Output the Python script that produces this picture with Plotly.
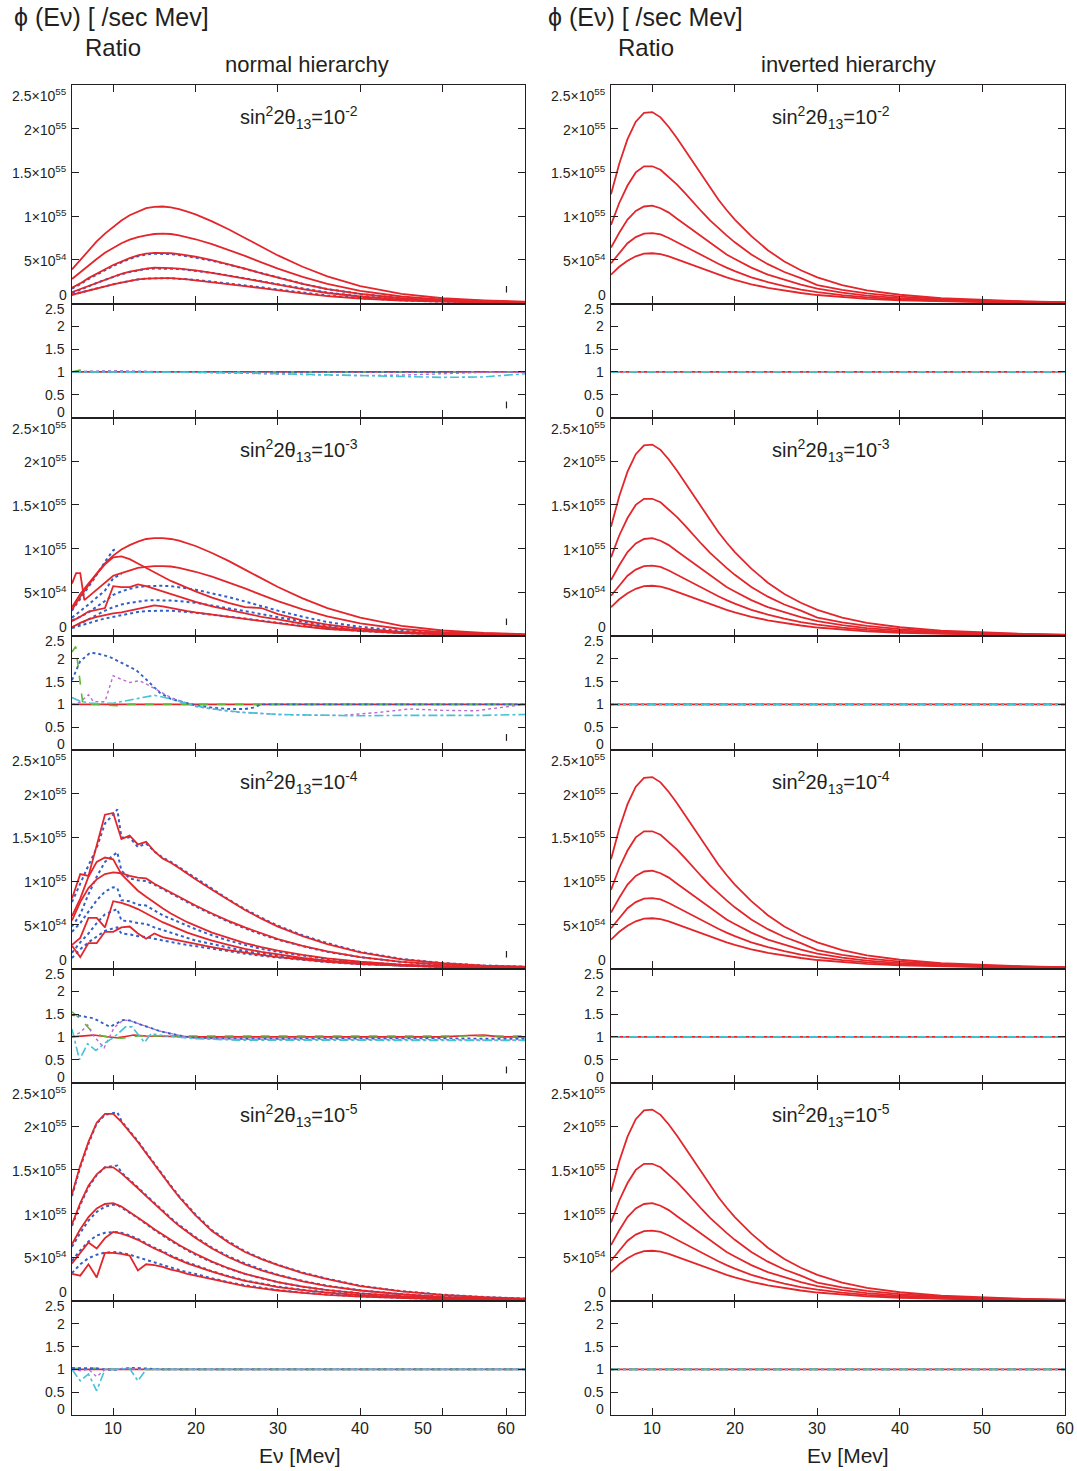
import plotly.graph_objects as go

# ---------------- data (flux in units of 1e55 /sec MeV) ----------------
E = [5, 6, 7, 8, 9, 10, 11, 12, 13, 14, 15, 16, 17, 18, 19, 20,
     22, 24, 26, 28, 30, 33, 36, 40, 45, 50, 55, 60]
E_B = [5, 6, 7, 8, 9, 10, 10.5, 11, 12, 13, 14, 15, 16, 17, 18, 19, 20,
       22, 24, 26, 28, 30, 33, 36, 40, 45, 50, 55, 60]
E_SPIKE = [5, 5.5, 6, 6.5, 7, 8, 9, 10, 11, 12, 13, 14, 15, 16, 17, 18, 19, 20,
           22, 24, 26, 28, 30, 33, 36, 40, 45, 50, 55, 60]

# --- normal hierarchy, sin^2 2theta13 = 1e-2
n1_red_A = [0.39, 0.50, 0.61, 0.71, 0.80, 0.88, 0.95, 1.01, 1.05, 1.09, 1.105, 1.11, 1.10, 1.08, 1.05, 1.02,
            0.94, 0.85, 0.75, 0.65, 0.55, 0.42, 0.31, 0.20, 0.11, 0.06, 0.035, 0.02]
n1_red_B = [0.28, 0.36, 0.44, 0.51, 0.58, 0.64, 0.69, 0.73, 0.76, 0.78, 0.795, 0.80, 0.795, 0.78, 0.76, 0.735,
            0.68, 0.615, 0.545, 0.47, 0.40, 0.305, 0.225, 0.145, 0.08, 0.045, 0.026, 0.015]
n1_red_C = [0.18, 0.23, 0.29, 0.34, 0.39, 0.44, 0.48, 0.52, 0.55, 0.57, 0.58, 0.58, 0.575, 0.565, 0.55, 0.535,
            0.495, 0.45, 0.40, 0.345, 0.295, 0.225, 0.165, 0.11, 0.06, 0.035, 0.02, 0.012]
n1_red_D = [0.13, 0.165, 0.20, 0.24, 0.275, 0.31, 0.34, 0.365, 0.385, 0.40, 0.41, 0.41, 0.405, 0.40, 0.39, 0.38,
            0.35, 0.32, 0.285, 0.25, 0.215, 0.165, 0.12, 0.08, 0.045, 0.026, 0.015, 0.009]
n1_red_E = [0.10, 0.125, 0.15, 0.175, 0.20, 0.22, 0.24, 0.26, 0.275, 0.285, 0.29, 0.29, 0.29, 0.285, 0.275, 0.265,
            0.245, 0.225, 0.20, 0.175, 0.15, 0.115, 0.085, 0.057, 0.033, 0.019, 0.011, 0.006]
n1_blue_C = [0.17, 0.22, 0.28, 0.33, 0.38, 0.43, 0.47, 0.51, 0.54, 0.56, 0.57, 0.57, 0.565, 0.555, 0.54, 0.525,
             0.49, 0.445, 0.395, 0.345, 0.295, 0.225, 0.165, 0.11, 0.06, 0.035, 0.02, 0.012]
n1_blue_D = [0.12, 0.16, 0.195, 0.235, 0.27, 0.305, 0.335, 0.36, 0.38, 0.395, 0.40, 0.40, 0.40, 0.395, 0.385, 0.375,
             0.35, 0.32, 0.29, 0.255, 0.22, 0.17, 0.125, 0.083, 0.047, 0.027, 0.016, 0.009]
n1_blue_E = [0.10, 0.125, 0.15, 0.175, 0.20, 0.22, 0.24, 0.26, 0.275, 0.285, 0.29, 0.29, 0.29, 0.285, 0.28, 0.27,
             0.25, 0.23, 0.21, 0.185, 0.16, 0.125, 0.092, 0.062, 0.036, 0.021, 0.012, 0.007]
n1_r_red_x, n1_r_red = [5, 60], [1.0, 1.0]
n1_r_green_x, n1_r_green = [5, 6, 7, 8, 10, 60], [1.0, 1.04, 1.01, 1.0, 1.0, 1.0]
n1_r_blue_x, n1_r_blue = [5, 10, 15, 20, 60], [1.0, 1.01, 1.0, 1.0, 1.0]
n1_r_mag_x = [5, 10, 14, 20, 25, 30, 35, 40, 45, 50, 55, 60]
n1_r_mag = [1.0, 1.02, 1.01, 0.99, 0.97, 0.95, 0.93, 0.92, 0.93, 0.96, 0.99, 1.0]
n1_r_cyan_x = [5, 10, 15, 20, 25, 30, 35, 40, 45, 50, 55, 60]
n1_r_cyan = [1.0, 1.0, 1.0, 0.99, 0.98, 0.96, 0.93, 0.91, 0.89, 0.88, 0.89, 0.96]

# --- normal hierarchy, 1e-3
n2_red_A = [0.33, 0.48, 0.60, 0.72, 0.83, 0.92, 0.99, 1.04, 1.08, 1.11, 1.12, 1.12, 1.11, 1.09, 1.06, 1.03,
            0.95, 0.86, 0.76, 0.66, 0.56, 0.43, 0.32, 0.21, 0.115, 0.063, 0.036, 0.02]
n2_red_B = [0.30, 0.45, 0.58, 0.71, 0.82, 0.90, 0.91, 0.88, 0.83, 0.78, 0.73, 0.68, 0.63, 0.59, 0.55, 0.51,
            0.44, 0.38, 0.33, 0.32, 0.25, 0.18, 0.13, 0.085, 0.047, 0.027, 0.015, 0.009]
n2_red_C = [0.60, 0.72, 0.72, 0.41, 0.45, 0.53, 0.62, 0.69, 0.72, 0.75, 0.78, 0.79, 0.80, 0.80, 0.795, 0.78, 0.76, 0.735,
            0.68, 0.615, 0.545, 0.47, 0.40, 0.305, 0.225, 0.145, 0.08, 0.045, 0.026, 0.015]
n2_red_D = [0.17, 0.22, 0.28, 0.30, 0.32, 0.57, 0.56, 0.56, 0.59, 0.57, 0.54, 0.51, 0.48, 0.45, 0.42, 0.39,
            0.34, 0.30, 0.26, 0.22, 0.19, 0.14, 0.10, 0.065, 0.037, 0.021, 0.012, 0.007]
n2_red_E = [0.10, 0.15, 0.19, 0.22, 0.24, 0.26, 0.27, 0.29, 0.31, 0.33, 0.35, 0.34, 0.32, 0.30, 0.285, 0.27,
            0.245, 0.22, 0.195, 0.17, 0.145, 0.11, 0.08, 0.055, 0.032, 0.018, 0.01, 0.006]
n2_blue_A_x, n2_blue_A = [5, 6, 7, 8, 9, 10, 10.5], [0.29, 0.42, 0.56, 0.70, 0.85, 0.98, 1.01]
n2_blue_B_x, n2_blue_B = [5, 6, 7, 8, 9, 10, 11], [0.21, 0.28, 0.36, 0.44, 0.52, 0.66, 0.71]
n2_blue_C = [0.18, 0.22, 0.27, 0.33, 0.40, 0.47, 0.51, 0.54, 0.56, 0.57, 0.575, 0.575, 0.57, 0.56, 0.545, 0.53,
             0.49, 0.445, 0.395, 0.34, 0.29, 0.22, 0.16, 0.105, 0.058, 0.033, 0.019, 0.011]
n2_blue_D = [0.10, 0.14, 0.19, 0.24, 0.29, 0.33, 0.36, 0.38, 0.395, 0.405, 0.41, 0.41, 0.405, 0.40, 0.39, 0.38,
             0.35, 0.32, 0.285, 0.25, 0.215, 0.165, 0.12, 0.08, 0.045, 0.026, 0.015, 0.009]
n2_blue_E = [0.09, 0.12, 0.15, 0.175, 0.20, 0.22, 0.24, 0.26, 0.275, 0.285, 0.29, 0.29, 0.29, 0.285, 0.275, 0.265,
             0.245, 0.225, 0.20, 0.175, 0.15, 0.115, 0.085, 0.057, 0.033, 0.019, 0.011, 0.006]
n2_r_red_x, n2_r_red = [5, 60], [1.0, 1.0]
n2_r_green_x = [5, 5.45, 6.3, 7, 8, 9, 10.4, 12, 15, 20, 60]
n2_r_green = [2.15, 2.27, 1.03, 1.0, 1.0, 0.99, 0.97, 1.0, 1.0, 1.0, 1.0]
n2_r_blue_x = [5, 6, 7.2, 8, 9.6, 11, 12.8, 14, 15.7, 17, 18.9, 20, 22, 24, 26, 27, 28, 30, 60]
n2_r_blue = [1.53, 1.95, 2.13, 2.12, 2.04, 1.92, 1.75, 1.55, 1.25, 1.12, 1.03, 0.98, 0.93, 0.90, 0.90, 0.93, 1.0, 1.0, 1.0]
n2_r_mag_x = [5, 6, 7, 7.6, 9, 10, 11, 12, 13.2, 14, 15.7, 17, 18.9, 20, 25, 30, 35, 38, 42, 46, 50, 54, 57, 60]
n2_r_mag = [1.0, 1.05, 1.21, 1.06, 1.06, 1.63, 1.55, 1.48, 1.52, 1.45, 1.28, 1.15, 1.03, 0.95, 0.83, 0.78,
            0.76, 0.76, 0.82, 0.90, 0.87, 0.86, 0.93, 1.0]
n2_r_cyan_x = [5, 6, 7.2, 8, 10.1, 12.3, 15, 17, 18.9, 20, 22, 25.5, 30, 35, 40, 45, 50, 55, 60]
n2_r_cyan = [1.15, 1.07, 1.03, 1.02, 1.03, 1.10, 1.20, 1.12, 1.03, 0.97, 0.90, 0.83, 0.78, 0.76, 0.75, 0.76, 0.76, 0.76, 0.78]

# --- normal hierarchy, 1e-4
n3_red_A = [0.80, 1.08, 1.06, 1.41, 1.76, 1.78, 1.48, 1.52, 1.42, 1.45, 1.34, 1.26, 1.21, 1.15, 1.08, 1.02,
            0.90, 0.78, 0.67, 0.57, 0.48, 0.37, 0.28, 0.185, 0.105, 0.06, 0.034, 0.02]
n3_red_B = [0.60, 0.80, 1.05, 1.22, 1.27, 1.25, 1.08, 0.98, 0.89, 0.82, 0.75, 0.69, 0.63, 0.58, 0.53, 0.49,
            0.41, 0.35, 0.29, 0.245, 0.205, 0.155, 0.115, 0.077, 0.045, 0.026, 0.015, 0.009]
n3_red_C = [0.55, 0.76, 0.92, 1.02, 1.08, 1.10, 1.09, 1.06, 1.04, 1.03, 0.97, 0.92, 0.87, 0.82, 0.77, 0.72,
            0.63, 0.545, 0.47, 0.40, 0.335, 0.26, 0.195, 0.13, 0.076, 0.044, 0.026, 0.015]
n3_red_D = [0.27, 0.35, 0.58, 0.58, 0.47, 0.77, 0.75, 0.72, 0.68, 0.63, 0.58, 0.53, 0.49, 0.45, 0.41, 0.38,
            0.32, 0.27, 0.225, 0.19, 0.16, 0.12, 0.09, 0.06, 0.035, 0.02, 0.012, 0.007]
n3_red_E = [0.26, 0.13, 0.29, 0.29, 0.42, 0.42, 0.47, 0.48, 0.40, 0.34, 0.40, 0.36, 0.34, 0.32, 0.30, 0.28,
            0.245, 0.21, 0.18, 0.155, 0.13, 0.10, 0.075, 0.05, 0.03, 0.017, 0.01, 0.006]
n3_blue_A = [0.76, 0.98, 1.18, 1.38, 1.66, 1.76, 1.82, 1.50, 1.50, 1.39, 1.43, 1.34, 1.27, 1.22, 1.16, 1.09, 1.03,
             0.91, 0.79, 0.68, 0.58, 0.49, 0.38, 0.29, 0.19, 0.11, 0.062, 0.035, 0.021]
n3_blue_B = [0.48, 0.62, 0.85, 1.05, 1.22, 1.29, 1.33, 1.12, 1.03, 1.01, 1.00, 0.96, 0.91, 0.86, 0.81, 0.76, 0.71,
             0.62, 0.535, 0.46, 0.39, 0.33, 0.255, 0.19, 0.13, 0.075, 0.043, 0.025, 0.015]
n3_blue_C = [0.42, 0.52, 0.65, 0.78, 0.88, 0.93, 0.92, 0.78, 0.77, 0.73, 0.72, 0.66, 0.61, 0.57, 0.53, 0.49, 0.45,
             0.38, 0.32, 0.27, 0.225, 0.19, 0.145, 0.108, 0.073, 0.043, 0.025, 0.015, 0.009]
n3_blue_D = [0.18, 0.30, 0.40, 0.52, 0.62, 0.66, 0.68, 0.55, 0.54, 0.52, 0.51, 0.47, 0.44, 0.41, 0.38, 0.35, 0.32,
             0.28, 0.24, 0.20, 0.17, 0.145, 0.11, 0.083, 0.056, 0.033, 0.019, 0.011, 0.007]
n3_blue_E = [0.12, 0.22, 0.30, 0.37, 0.43, 0.46, 0.47, 0.40, 0.39, 0.37, 0.36, 0.34, 0.32, 0.30, 0.285, 0.27, 0.255,
             0.225, 0.195, 0.17, 0.145, 0.125, 0.097, 0.073, 0.05, 0.03, 0.018, 0.011, 0.006]
n3_r_red_x = [5, 6, 7.6, 9, 10.4, 11.5, 12.5, 14, 20, 30, 40, 50, 53, 55, 57, 60]
n3_r_red = [1.0, 1.01, 1.04, 1.01, 0.98, 1.01, 1.04, 1.02, 1.0, 1.0, 1.0, 1.0, 1.03, 1.04, 1.0, 1.0]
n3_r_green_x = [5, 6, 7, 7.6, 8.5, 10, 11, 12, 13, 15, 20, 30, 40, 50, 55, 60]
n3_r_green = [1.55, 1.40, 1.20, 1.10, 1.03, 0.98, 0.97, 1.0, 1.02, 1.02, 1.02, 1.02, 1.02, 1.02, 1.03, 1.02]
n3_r_blue_x = [5, 6, 7.6, 9.6, 11.2, 12, 13.2, 15.6, 17, 18.9, 20, 25, 30, 40, 50, 55, 60]
n3_r_blue = [1.48, 1.46, 1.41, 1.22, 1.37, 1.36, 1.28, 1.13, 1.07, 1.0, 0.98, 0.96, 0.96, 0.97, 0.97, 0.96, 0.96]
n3_r_mag_x = [5, 6, 6.9, 7.5, 8.9, 10.1, 11.2, 12, 13.2, 15.6, 18.9, 20, 25, 30, 40, 50, 55, 60]
n3_r_mag = [1.0, 1.1, 1.26, 1.05, 0.76, 1.2, 1.37, 1.36, 1.28, 1.13, 1.0, 0.97, 0.95, 0.95, 0.95, 0.94, 0.93, 0.93]
n3_r_cyan_x = [5, 5.9, 6.9, 7.9, 9.1, 10, 11.5, 12.3, 13.8, 14.6, 16, 18, 20, 25, 30, 40, 50, 60]
n3_r_cyan = [1.17, 0.50, 0.85, 0.70, 0.88, 0.98, 1.22, 1.22, 0.88, 1.07, 1.03, 1.0, 0.96, 0.93, 0.93, 0.93, 0.92, 0.92]

# --- normal hierarchy, 1e-5
n4_red_A = [1.22, 1.55, 1.82, 2.04, 2.14, 2.14, 2.05, 1.94, 1.82, 1.69, 1.56, 1.43, 1.31, 1.19, 1.08, 0.98,
            0.80, 0.67, 0.56, 0.48, 0.41, 0.32, 0.25, 0.17, 0.11, 0.07, 0.045, 0.027]
n4_red_B = [0.88, 1.12, 1.32, 1.45, 1.53, 1.53, 1.46, 1.38, 1.29, 1.20, 1.11, 1.02, 0.94, 0.86, 0.79, 0.72,
            0.60, 0.50, 0.42, 0.35, 0.295, 0.225, 0.17, 0.12, 0.077, 0.048, 0.03, 0.018]
n4_red_C = [0.65, 0.82, 0.96, 1.06, 1.11, 1.12, 1.08, 1.02, 0.96, 0.89, 0.82, 0.76, 0.70, 0.64, 0.59, 0.54,
            0.45, 0.375, 0.31, 0.26, 0.215, 0.165, 0.125, 0.088, 0.055, 0.035, 0.022, 0.013]
n4_red_D = [0.43, 0.55, 0.67, 0.60, 0.72, 0.79, 0.77, 0.74, 0.70, 0.65, 0.60, 0.56, 0.51, 0.47, 0.43, 0.40,
            0.335, 0.28, 0.23, 0.195, 0.16, 0.125, 0.095, 0.067, 0.042, 0.027, 0.017, 0.01]
n4_red_E = [0.31, 0.29, 0.42, 0.27, 0.55, 0.55, 0.54, 0.52, 0.35, 0.42, 0.41, 0.39, 0.36, 0.34, 0.31, 0.29,
            0.245, 0.205, 0.17, 0.145, 0.12, 0.093, 0.07, 0.05, 0.032, 0.02, 0.013, 0.008]
n4_blue_A = [1.20, 1.53, 1.80, 2.03, 2.13, 2.15, 2.16, 2.06, 1.95, 1.83, 1.70, 1.57, 1.44, 1.32, 1.20, 1.09, 0.99,
             0.81, 0.68, 0.57, 0.485, 0.415, 0.325, 0.255, 0.175, 0.112, 0.072, 0.046, 0.028]
n4_blue_B = [0.86, 1.10, 1.30, 1.44, 1.53, 1.54, 1.55, 1.47, 1.39, 1.30, 1.21, 1.12, 1.03, 0.95, 0.87, 0.80, 0.73,
             0.61, 0.51, 0.43, 0.36, 0.30, 0.23, 0.175, 0.123, 0.079, 0.05, 0.031, 0.019]
n4_blue_C = [0.62, 0.78, 0.92, 1.02, 1.08, 1.10, 1.10, 1.07, 1.01, 0.95, 0.88, 0.81, 0.75, 0.69, 0.63, 0.58, 0.53,
             0.445, 0.37, 0.31, 0.26, 0.215, 0.165, 0.125, 0.088, 0.055, 0.035, 0.022, 0.013]
n4_blue_D = [0.46, 0.58, 0.68, 0.75, 0.78, 0.79, 0.79, 0.78, 0.75, 0.71, 0.66, 0.61, 0.57, 0.52, 0.48, 0.44, 0.41,
             0.34, 0.285, 0.235, 0.20, 0.165, 0.128, 0.097, 0.069, 0.043, 0.028, 0.018, 0.011]
n4_blue_E = [0.32, 0.42, 0.49, 0.53, 0.555, 0.56, 0.56, 0.55, 0.53, 0.50, 0.47, 0.44, 0.41, 0.38, 0.355, 0.33, 0.31,
             0.26, 0.215, 0.18, 0.15, 0.125, 0.097, 0.073, 0.052, 0.033, 0.021, 0.014, 0.008]
n4_r_red_x, n4_r_red = [5, 60], [1.0, 1.0]
n4_r_green_x, n4_r_green = [5, 7, 9, 10, 12, 14, 60], [1.02, 1.03, 1.01, 1.0, 1.02, 1.0, 1.0]
n4_r_blue_x = [5, 6, 7, 8, 9, 10, 11, 12, 13, 14, 16, 60]
n4_r_blue = [1.03, 1.03, 1.02, 1.02, 1.0, 0.99, 1.01, 1.03, 1.03, 1.02, 1.0, 1.0]
n4_r_mag_x, n4_r_mag = [5, 6, 7, 8, 9, 10, 12, 13, 14, 60], [1.0, 0.97, 1.0, 0.84, 1.0, 1.0, 1.03, 1.0, 1.0, 1.0]
n4_r_cyan_x = [5, 6, 7, 8, 9, 10, 12, 13, 14, 16, 60]
n4_r_cyan = [1.0, 0.75, 0.9, 0.53, 1.0, 1.0, 1.02, 0.75, 1.0, 1.0, 1.0]

# --- inverted hierarchy (same in all four rows)
inv_A = [1.25, 1.60, 1.88, 2.08, 2.18, 2.19, 2.13, 2.02, 1.89, 1.75, 1.60, 1.46, 1.32, 1.19, 1.07, 0.96,
         0.77, 0.61, 0.48, 0.38, 0.30, 0.21, 0.15, 0.10, 0.06, 0.04, 0.025, 0.015]
inv_B = [0.90, 1.15, 1.35, 1.50, 1.57, 1.57, 1.53, 1.45, 1.36, 1.26, 1.15, 1.05, 0.95, 0.86, 0.78, 0.70,
         0.56, 0.45, 0.36, 0.29, 0.21, 0.155, 0.115, 0.078, 0.05, 0.032, 0.02, 0.013]
inv_C = [0.64, 0.81, 0.96, 1.06, 1.11, 1.12, 1.09, 1.04, 0.97, 0.90, 0.83, 0.76, 0.69, 0.62, 0.56, 0.51,
         0.41, 0.33, 0.27, 0.215, 0.17, 0.125, 0.09, 0.062, 0.04, 0.026, 0.017, 0.011]
inv_D = [0.46, 0.58, 0.69, 0.76, 0.80, 0.805, 0.79, 0.75, 0.70, 0.65, 0.60, 0.55, 0.50, 0.455, 0.41, 0.37,
         0.30, 0.245, 0.20, 0.16, 0.13, 0.095, 0.07, 0.048, 0.031, 0.02, 0.013, 0.009]
inv_E = [0.33, 0.42, 0.49, 0.54, 0.57, 0.575, 0.565, 0.54, 0.505, 0.47, 0.435, 0.40, 0.365, 0.33, 0.30, 0.27,
         0.22, 0.18, 0.148, 0.12, 0.097, 0.072, 0.053, 0.037, 0.024, 0.016, 0.011, 0.007]
inv_ratio_x, inv_ratio = [5, 60], [1.0, 1.0]

theta_labels = ["10<sup>-2</sup>", "10<sup>-3</sup>", "10<sup>-4</sup>", "10<sup>-5</sup>"]
flux_ticks = [0, 0.5, 1, 1.5, 2, 2.5]
flux_tick_text = ["0", "5×10<sup>54</sup>", "1×10<sup>55</sup>", "1.5×10<sup>55</sup>",
                  "2×10<sup>55</sup>", "2.5×10<sup>55</sup>"]
ratio_ticks = [0, 0.5, 1, 1.5, 2, 2.5]
ratio_tick_text = ["0", "0.5", "1", "1.5", "2", "2.5"]
x_tick_text = ["10", "20", "30", "40", "50", "60"]
x_ticks_right = [10, 20, 30, 40, 50, 60]
x_ticks_left = [10, 20, 30, 40, 50]
x_ticks_left_bottom = [10, 20, 30, 40, 50, 57.75]
x_label_pos_left = [10, 20, 30, 40, 47.6, 57.75]

# ---------------- styling / layout ----------------
FONT = "Liberation Sans, Arial, Helvetica, sans-serif"
INK = "#231f20"
RED = "#e3262b"
BLUE = "#3160c6"
GREEN = "#5fb833"
MAG = "#b86bd0"
CYAN = "#44c2d6"

W, H = 1077, 1471
ML, MR, MT, MB = 72, 12, 85, 56
PW, PH = W - ML - MR, H - MT - MB
ROW_H, FLUX_H = 332.5, 218.5


def xp(px):
    return (px - ML) / PW


def yp(py):
    return 1 - (py - MT) / PH


XDOM = [[0, xp(525)], [xp(611), 1]]


def ydom(i, k):
    top = MT + ROW_H * i + (FLUX_H if k == 1 else 0)
    bot = MT + ROW_H * i + (FLUX_H if k == 0 else ROW_H)
    return [yp(bot), yp(top)]


def axn(c, i, k):
    return c * 8 + i * 2 + k + 1


def sfx(n):
    return "" if n == 1 else str(n)


fig = go.Figure()


def add_line(n, x, y, color, width, dash="solid"):
    fig.add_trace(go.Scatter(x=x, y=y, mode="lines", xaxis="x" + sfx(n), yaxis="y" + sfx(n),
                             line=dict(color=color, width=width, dash=dash),
                             showlegend=False, hoverinfo="skip"))


normal_rows = [
    dict(blue=[(E, n1_blue_C), (E, n1_blue_D), (E, n1_blue_E)],
         red=[(E, n1_red_A), (E, n1_red_B), (E, n1_red_C), (E, n1_red_D), (E, n1_red_E)],
         ratio=[(n1_r_red_x, n1_r_red), (n1_r_green_x, n1_r_green), (n1_r_blue_x, n1_r_blue),
                (n1_r_mag_x, n1_r_mag), (n1_r_cyan_x, n1_r_cyan)]),
    dict(blue=[(n2_blue_A_x, n2_blue_A), (n2_blue_B_x, n2_blue_B), (E, n2_blue_C), (E, n2_blue_D), (E, n2_blue_E)],
         red=[(E, n2_red_A), (E, n2_red_B), (E_SPIKE, n2_red_C), (E, n2_red_D), (E, n2_red_E)],
         ratio=[(n2_r_red_x, n2_r_red), (n2_r_green_x, n2_r_green), (n2_r_blue_x, n2_r_blue),
                (n2_r_mag_x, n2_r_mag), (n2_r_cyan_x, n2_r_cyan)]),
    dict(blue=[(E_B, n3_blue_A), (E_B, n3_blue_B), (E_B, n3_blue_C), (E_B, n3_blue_D), (E_B, n3_blue_E)],
         red=[(E, n3_red_A), (E, n3_red_B), (E, n3_red_C), (E, n3_red_D), (E, n3_red_E)],
         ratio=[(n3_r_red_x, n3_r_red), (n3_r_green_x, n3_r_green), (n3_r_blue_x, n3_r_blue),
                (n3_r_mag_x, n3_r_mag), (n3_r_cyan_x, n3_r_cyan)]),
    dict(blue=[(E_B, n4_blue_A), (E_B, n4_blue_B), (E_B, n4_blue_C), (E_B, n4_blue_D), (E_B, n4_blue_E)],
         red=[(E, n4_red_A), (E, n4_red_B), (E, n4_red_C), (E, n4_red_D), (E, n4_red_E)],
         ratio=[(n4_r_red_x, n4_r_red), (n4_r_green_x, n4_r_green), (n4_r_blue_x, n4_r_blue),
                (n4_r_mag_x, n4_r_mag), (n4_r_cyan_x, n4_r_cyan)]),
]
inverted_row = dict(blue=[], red=[(E, inv_A), (E, inv_B), (E, inv_C), (E, inv_D), (E, inv_E)],
                    ratio=[(inv_ratio_x, inv_ratio)] * 5)

RATIO_STYLE = [(RED, 1.6, "solid"), (GREEN, 1.6, "dash"), (BLUE, 1.9, "dot"),
               (MAG, 1.4, "dot"), (CYAN, 1.6, "dashdot")]

layout = dict(width=W, height=H, margin=dict(l=ML, r=MR, t=MT, b=MB, pad=0),
              paper_bgcolor="white", plot_bgcolor="white", showlegend=False,
              font=dict(family=FONT, color=INK, size=14))
annotations = []
shapes = []

for c in range(2):
    for i in range(4):
        data = normal_rows[i] if c == 0 else inverted_row
        for k in range(2):
            n = axn(c, i, k)
            s = sfx(n)
            if c == 1:
                xt = x_ticks_right
            elif i == 3 and k == 1:
                xt = x_ticks_left_bottom
            else:
                xt = x_ticks_left
            layout["xaxis" + s] = dict(domain=XDOM[c], anchor="y" + s, range=[5, 60],
                                       showline=True, linecolor=INK, linewidth=1.2, mirror="ticks",
                                       ticks="inside", ticklen=7, tickwidth=1.1, tickcolor=INK,
                                       tickvals=xt, showticklabels=False, showgrid=False,
                                       zeroline=False, fixedrange=True)
            layout["yaxis" + s] = dict(domain=ydom(i, k), anchor="x" + s, range=[0, 2.5],
                                       showline=True, linecolor=INK, linewidth=1.2, mirror="ticks",
                                       ticks="inside", ticklen=7, tickwidth=1.1, tickcolor=INK,
                                       tickvals=flux_ticks if k == 0 else ratio_ticks,
                                       showticklabels=False, showgrid=False, zeroline=False,
                                       fixedrange=True)
            if k == 0:
                for x, y in data["blue"]:
                    add_line(n, x, y, BLUE, 2.0, "dot")
                for x, y in data["red"]:
                    add_line(n, x, y, RED, 1.8)
                for v, txt in zip(flux_ticks, flux_tick_text):
                    ys = 0
                    if v == 0:
                        ys = 9
                    elif v == 2.5:
                        ys = -10
                    annotations.append(dict(xref="x" + s + " domain", x=0, xanchor="right", xshift=-3,
                                            yref="y" + s, y=v, yanchor="middle", yshift=ys,
                                            text=txt, showarrow=False,
                                            font=dict(size=14, family=FONT, color=INK)))
                annotations.append(dict(xref="x" + s, x=32.6 if c == 0 else 31.6,
                                        yref="y" + s + " domain", y=0.85, xanchor="center",
                                        yanchor="middle",
                                        text="sin<sup>2</sup>2θ<sub>13</sub>=" + theta_labels[i],
                                        showarrow=False, font=dict(size=20, family=FONT, color=INK)))
                if c == 0 and i < 3:
                    shapes.append(dict(type="line", xref="x" + s, yref="y" + s + " domain",
                                       x0=57.75, x1=57.75, y0=0.05, y1=0.08,
                                       line=dict(color=INK, width=1.2)))
            else:
                for (x, y), (col, wd, ds) in zip(data["ratio"], RATIO_STYLE):
                    add_line(n, x, y, col, wd, ds)
                for v, txt in zip(ratio_ticks, ratio_tick_text):
                    ys = 0
                    if v == 0:
                        ys = 6
                    elif v == 2.5:
                        ys = -5
                    annotations.append(dict(xref="x" + s + " domain", x=0, xanchor="right", xshift=-5,
                                            yref="y" + s, y=v, yanchor="middle", yshift=ys,
                                            text=txt, showarrow=False,
                                            font=dict(size=14, family=FONT, color=INK)))
                if c == 0 and i < 3:
                    shapes.append(dict(type="line", xref="x" + s, yref="y" + s + " domain",
                                       x0=57.75, x1=57.75, y0=0.08, y1=0.14,
                                       line=dict(color=INK, width=1.2)))
                if i == 3:
                    pos = x_label_pos_left if c == 0 else x_ticks_right
                    for p, txt in zip(pos, x_tick_text):
                        annotations.append(dict(xref="x" + s, x=p, xanchor="center",
                                                yref="y" + s + " domain", y=0, yanchor="top",
                                                yshift=-3, text=txt, showarrow=False,
                                                font=dict(size=16, family=FONT, color=INK)))

# titles
for c, (phix, ratiox, hx, htxt) in enumerate([(12, 83, 307, "normal hierarchy"),
                                               (546, 616, 848, "inverted hierarchy")]):
    annotations.append(dict(xref="paper", yref="paper", x=xp(phix), y=yp(17), xanchor="left",
                            yanchor="middle", text="ϕ (Eν) [ /sec Mev]", showarrow=False,
                            font=dict(size=25, family=FONT, color=INK)))
    annotations.append(dict(xref="paper", yref="paper", x=xp(ratiox), y=yp(47), xanchor="left",
                            yanchor="middle", text="Ratio", showarrow=False,
                            font=dict(size=24, family=FONT, color=INK)))
    annotations.append(dict(xref="paper", yref="paper", x=xp(hx), y=yp(65), xanchor="center",
                            yanchor="middle", text=htxt, showarrow=False,
                            font=dict(size=22, family=FONT, color=INK)))
    annotations.append(dict(xref="paper", yref="paper", x=xp(300 if c == 0 else 848), y=yp(1455),
                            xanchor="center", yanchor="middle", text="Eν [Mev]", showarrow=False,
                            font=dict(size=21, family=FONT, color=INK)))

layout["annotations"] = annotations
layout["shapes"] = shapes
fig.update_layout(**layout)
fig.write_html("out.html", config={"displayModeBar": False},
               post_script="document.body.style.margin='0px'; document.body.style.overflow='hidden';")
